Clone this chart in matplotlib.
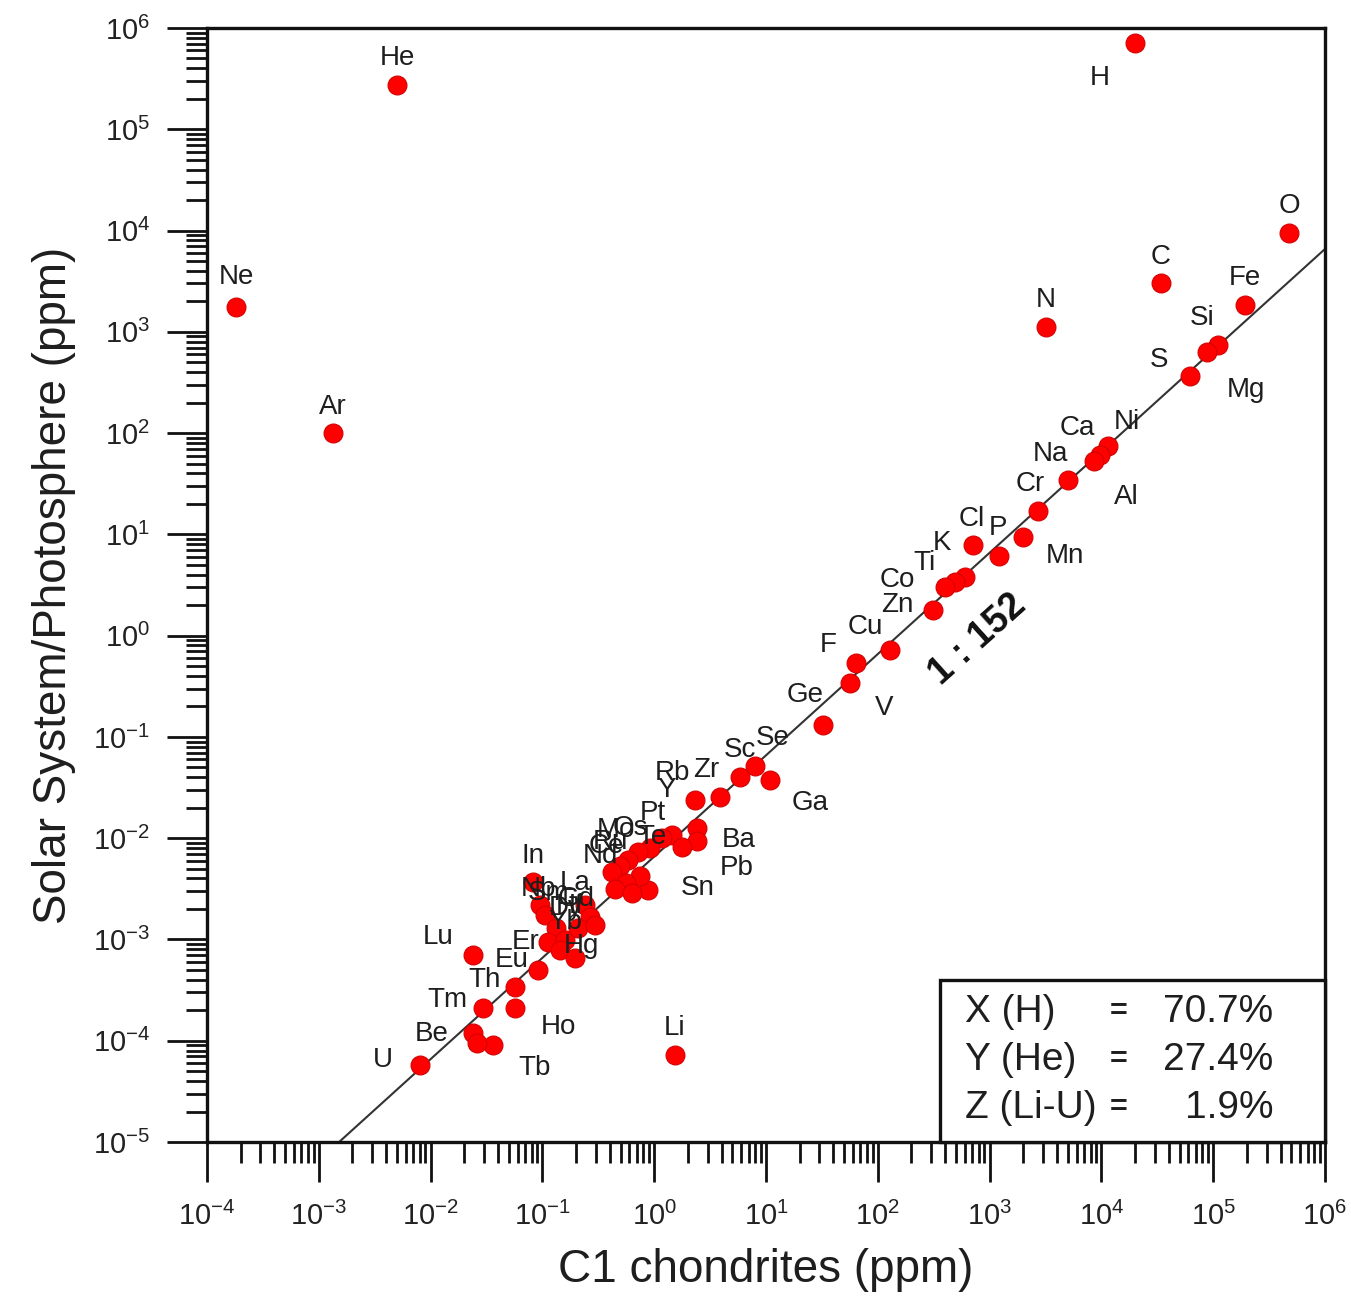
import numpy as np
import matplotlib
matplotlib.use("Agg")
import matplotlib.pyplot as plt
from matplotlib.ticker import LogLocator, NullFormatter
from matplotlib.patches import Rectangle

plt.rcParams['font.family'] = ['Liberation Sans', 'DejaVu Sans']
plt.rcParams['mathtext.fontset'] = 'custom'
plt.rcParams['mathtext.rm'] = 'Liberation Sans'
plt.rcParams['mathtext.it'] = 'Liberation Sans'
plt.rcParams['mathtext.bf'] = 'Liberation Sans:bold'

# ---------------- data ----------------
elements = ["H", "He", "Ne", "Ar", "O", "C", "N", "Fe", "Si", "Mg", "S",
            "Ni", "Ca", "Al", "Na", "Cr", "Mn", "P", "Cl", "K", "Co", "Ti",
            "Zn", "Cu", "F", "V", "Ge", "Se", "Sc", "Ga", "Zr", "Rb", "Y",
            "Ba", "Pb", "Te", "Sn", "Pt", "Os", "Mo", "Ru", "Ce", "Nd", "Cd",
            "As", "Pd", "Br", "In", "Nb", "La", "Gd", "Sm", "Dy", "Er", "Yb",
            "Hf", "Pr", "Hg", "Ag", "Lu", "Eu", "Th", "Ho", "Tm", "Be", "Tb",
            "Ta", "U", "Li"]
c1_chondrites = [2.0e4, 5.0e-3, 1.82e-4, 1.34e-3, 4.76e5, 3.41e4, 3.19e3, 1.92e5,
                 1.10e5, 8.8e4, 6.21e4, 1.15e4, 9.7e3, 8.6e3, 5.02e3, 2.71e3,
                 1.99e3, 1.21e3, 711, 603, 491, 399, 312, 129, 63.8, 56.4, 32.4,
                 7.98, 5.85, 10.9, 3.88, 2.32, 1.44, 2.42, 2.42, 1.77, 0.881,
                 1.17, 0.917, 0.716, 0.583, 0.494, 0.419, 0.746, 0.560, 0.446,
                 0.632, 0.0824, 0.0953, 0.240, 0.267, 0.105, 0.132, 0.112, 0.159,
                 0.208, 0.144, 0.196, 0.295, 0.0239, 0.0914, 0.0569, 0.0569,
                 0.0294, 0.0239, 0.0361, 0.0260, 0.00803, 1.53]
solar_system = [7.1e5, 2.74e5, 1.76e3, 100, 9.5e3, 3.03e3, 1.11e3, 1.84e3,
                741, 632, 366, 74.5, 60.8, 53, 34.4, 17.0, 9.42, 6.11, 7.85,
                3.79, 3.38, 3.02, 1.79, 0.721, 0.537, 0.340, 0.131, 0.0515,
                0.0402, 0.0375, 0.0255, 0.0238, 0.0107, 0.0126, 0.00937, 0.00818,
                0.00308, 0.0100, 0.0080, 0.0073, 0.00608, 0.00531, 0.00463,
                0.00423, 0.00360, 0.00315, 0.00287, 0.00369, 0.00219, 0.00219,
                0.00167, 0.00174, 0.00130, 0.000944, 0.000987, 0.00130, 0.000787,
                0.000656, 0.00139, 0.000701, 0.000499, 0.000339, 0.000210,
                0.000210, 0.000119, 9.07e-5, 9.49e-5, 5.75e-5, 7.23e-5]
ratio = 152
box_lines = ["X (H)", "Y (He)", "Z (Li-U)"]
box_values = ["70.7%", "27.4%", "1.9%"]

# label offsets in pixels (dx right, dy down); None = no label
label_offsets = {
    "H": (-35, 35), "He": (0, -27), "Ne": (0, -30), "Ar": (0, -26),
    "O": (0, -27), "C": (0, -26), "N": (0, -27), "Fe": (0, -27),
    "Si": (-16, -27), "Mg": (39, 38), "S": (-31, -16), "Ni": (19, -24),
    "Ca": (-23, -27), "Al": (32, 36), "Na": (-18, -26), "Cr": (-8, -27),
    "Mn": (42, 19), "P": (-1, -28), "Cl": (-1, -26), "K": (-23, -34),
    "Co": (-58, -2), "Ti": (-20, -24), "Zn": (-36, -5), "Cu": (-25, -23),
    "F": (-28, -18), "V": (34, 25), "Ge": (-18, -30), "Se": (18, -28),
    "Sc": (0, -27), "Ga": (40, 23), "Zr": (-14, -27), "Rb": (-23, -27),
    "Y": (-5, -45), "Ba": (42, 12), "Pb": (40, 27), "Te": (-30, -10),
    "Sn": (50, -2), "Pt": (-9, -25), "Os": (-20, -20), "Mo": (-22, -22),
    "Ru": (-18, -18), "Ce": (-14, -20), "Nd": (-12, -16), "Cd": None,
    "As": None, "Pd": None, "Br": None, "In": (0, -26), "Nb": (-2, -16),
    "La": (-10, -22), "Gd": (-14, -18), "Sm": (4, -22), "Dy": (10, -20),
    "Er": (-22, 0), "Yb": (0, -18), "Hf": (-8, -22), "Pr": None,
    "Hg": (6, -12), "Ag": None, "Lu": (-35, -18), "Eu": (-26, -10),
    "Th": (-30, -7), "Ho": (43, 19), "Tm": (-36, -8), "Be": (-41, 1),
    "Tb": (42, 23), "Ta": None, "U": (-37, -5), "Li": (0, -27),
}

# ---------------- figure ----------------
W, H = 1351, 1305
fig = plt.figure(figsize=(W / 100, H / 100), dpi=100)
ax = fig.add_axes([207 / W, 1 - 1142 / H, (1325 - 207) / W, (1142 - 28) / H])
ax.set_xscale("log")
ax.set_yscale("log")
ax.set_xlim(1e-4, 1e6)
ax.set_ylim(1e-5, 1e6)

# 1:152 line
xl = np.array([1e-4, 1e6])
ax.plot(xl, xl / ratio, color="#333333", lw=1.5, zorder=2)

ax.scatter(c1_chondrites, solar_system, s=185, facecolor="#ff0000",
           edgecolor="#d40000", linewidth=0.8, zorder=3)

for el, xv, yv in zip(elements, c1_chondrites, solar_system):
    off = label_offsets.get(el)
    if off is None:
        continue
    ax.annotate(el, (xv, yv), xytext=(off[0], -off[1]),
                textcoords="offset pixels", ha="center", va="center",
                fontsize=20, color="#1e1e1e", zorder=4)

ax.text(787, 0.906, "1 : 152", rotation=42, rotation_mode="anchor",
        ha="center", va="center", fontsize=27, fontweight="bold",
        family="Liberation Sans", color="#111111", zorder=4)

# stats box
ax.add_patch(Rectangle((0.6556, 0.0), 0.3444, 0.1454, transform=ax.transAxes,
                       facecolor="white", edgecolor="#111111", lw=2.4,
                       zorder=5, clip_on=False))
ys = [0.1167, 0.0736, 0.0305]
for lab, val, yy in zip(box_lines, box_values, ys):
    ax.text(0.678, yy, lab, transform=ax.transAxes, ha="left", va="center",
            fontsize=28, color="#1e1e1e", zorder=6)
    ax.text(0.815, yy, "=", transform=ax.transAxes, ha="center", va="center",
            fontsize=22, fontweight="bold", color="#1e1e1e", zorder=6)
    ax.text(0.9535, yy, val, transform=ax.transAxes, ha="right", va="center",
            fontsize=28, color="#1e1e1e", zorder=6)

# ticks
for axis in (ax.xaxis, ax.yaxis):
    axis.set_major_locator(LogLocator(base=10, numticks=100))
    axis.set_minor_locator(LogLocator(base=10, subs=np.arange(2, 10), numticks=100))
    axis.set_minor_formatter(NullFormatter())
ax.tick_params(which="major", direction="out", length=29, width=2.0,
               labelsize=21, pad=12, colors="#111111", labelcolor="#222222")
ax.tick_params(which="minor", direction="out", length=15, width=2.0,
               colors="#111111")
ax.tick_params(axis="x", which="major", pad=14)
ax.tick_params(top=False, right=False, which="both")
for sp in ax.spines.values():
    sp.set_linewidth(2.4)
    sp.set_color("#111111")

ax.set_xlabel("C1 chondrites (ppm)", fontsize=33, color="#1e1e1e", labelpad=12)
ax.set_ylabel("Solar System/Photosphere (ppm)", fontsize=33, color="#1e1e1e",
              labelpad=12)

fig.savefig("out.png", dpi=100)
